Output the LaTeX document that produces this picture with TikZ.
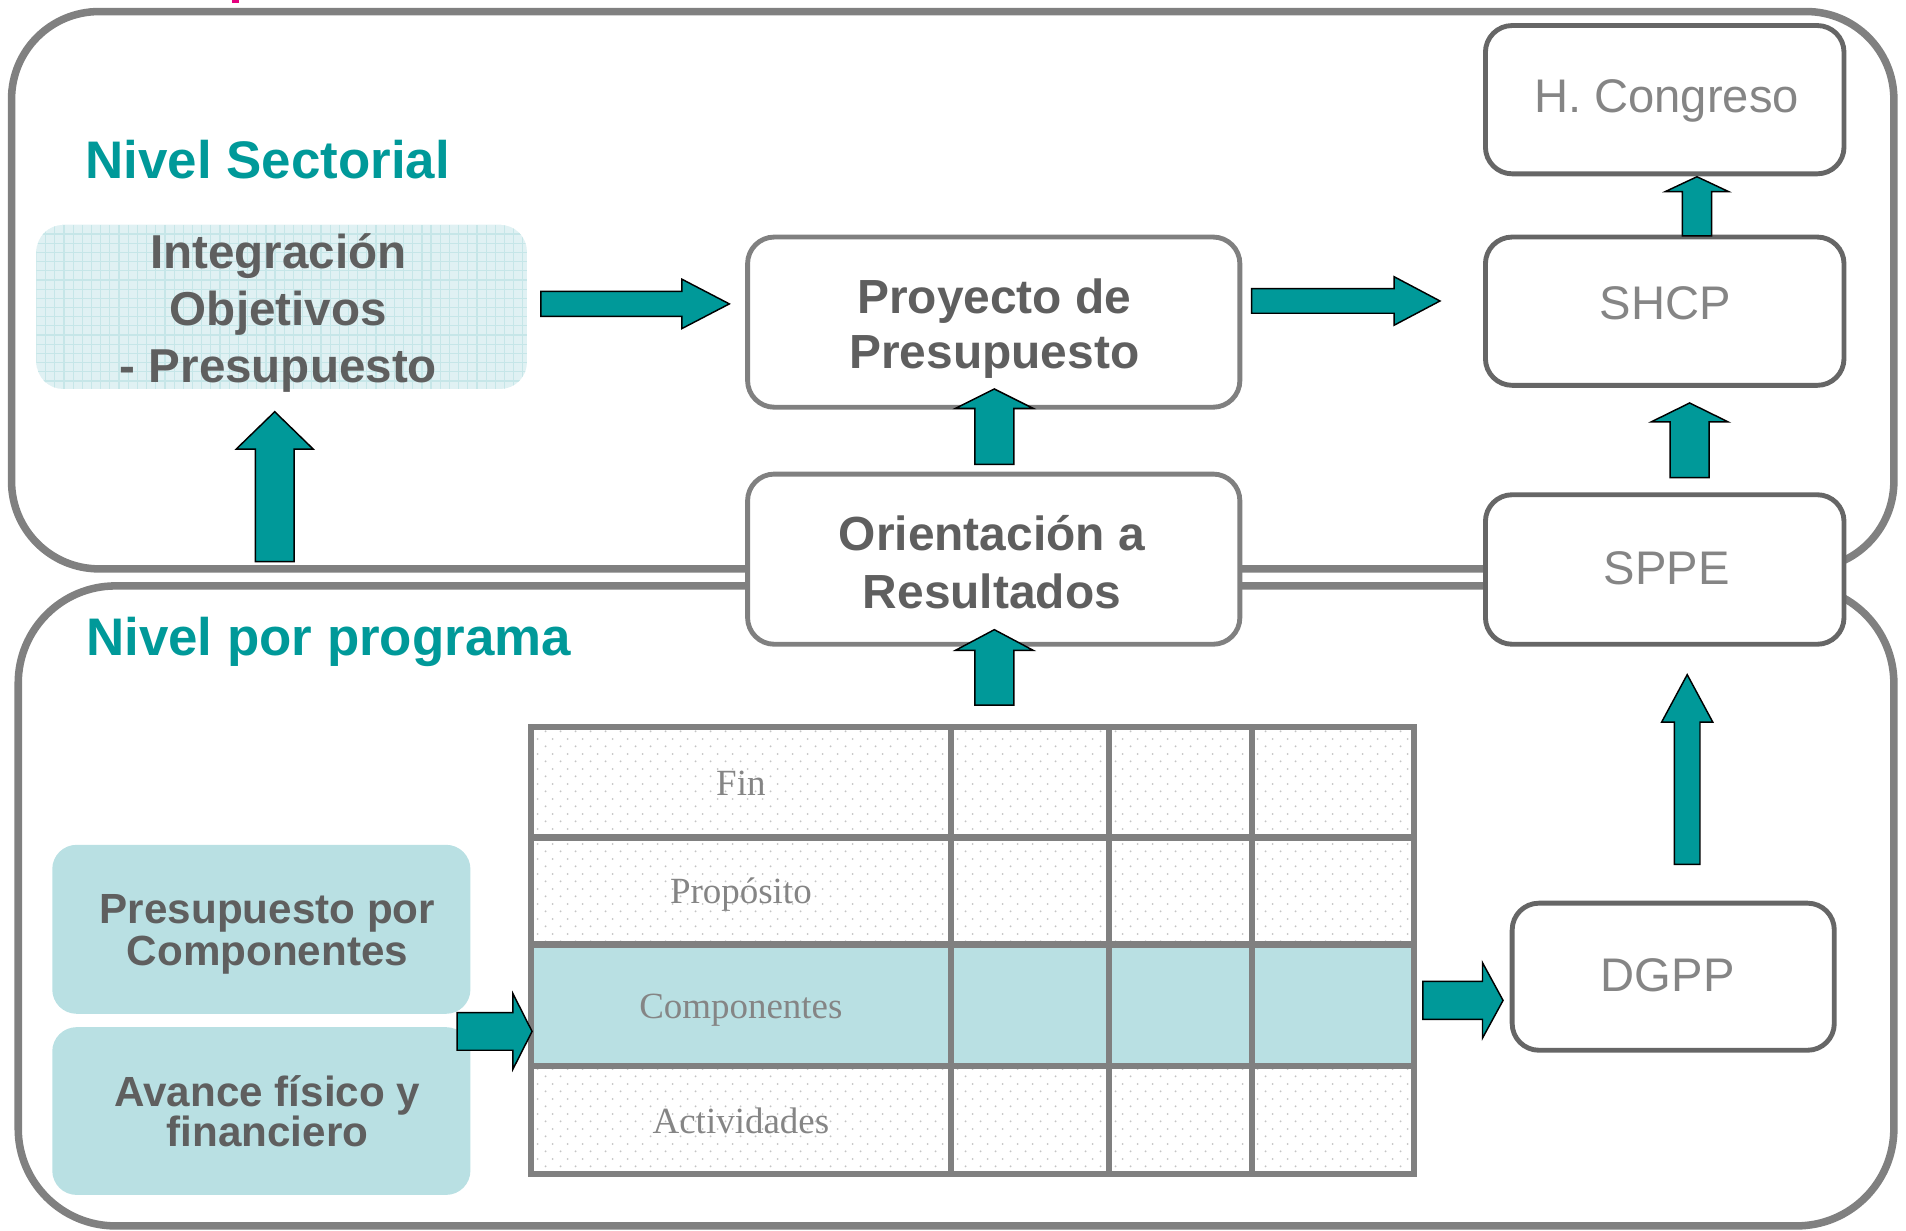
\documentclass[tikz,border=0pt]{standalone}
\usepackage{fontspec}
\setmainfont{Liberation Sans}
\newfontfamily\tabfont{Liberation Serif}
\usetikzlibrary{patterns.meta}
\definecolor{teal1}{HTML}{009999}
\definecolor{ltteal}{HTML}{B9E0E3}
\definecolor{gridbg}{HTML}{E0F1F3}
\definecolor{gridln}{HTML}{C6E6E8}
\definecolor{dktext}{HTML}{5F5F5F}
\definecolor{gytext}{HTML}{858585}
\definecolor{outline}{HTML}{808080}
\definecolor{boxdark}{HTML}{666666}
\definecolor{magenta1}{HTML}{E5007E}
\definecolor{dotgray}{HTML}{C4C4C4}
\tikzdeclarepattern{
  name=stagdots,
  type=uncolored,
  bottom left={(0pt,0pt)},
  top right={(6.2pt,6.3pt)},
  tile size={(6.2pt,6.3pt)},
  code={
    \fill (1.55pt,1.575pt) circle (0.45pt);
    \fill (4.65pt,4.725pt) circle (0.45pt);
  }
}
\tikzset{
 outerbox/.style={draw=outline, line width=3.1pt},
 whitebox/.style={draw=outline, fill=white, line width=2pt, rounded corners=11pt},
 darkbox/.style={draw=boxdark, fill=white, line width=2pt, rounded corners=11pt},
 tealbox/.style={fill=ltteal, rounded corners=10pt},
 gridbox/.style={fill=gridbg, rounded corners=11pt,
   path picture={
     \foreach \i in {0,...,55} \draw[gridln, line width=0.5pt]
       ([xshift=\i*3.775pt]path picture bounding box.north west) -- ([xshift=\i*3.775pt]path picture bounding box.south west);
     \foreach \j in {0,...,20} \draw[gridln, line width=0.5pt]
       ([yshift=-\j*3.775pt]path picture bounding box.north west) -- ([yshift=-\j*3.775pt]path picture bounding box.north east);
   }},
 blockarrow/.style={fill=teal1, draw=black, line width=0.6pt, line join=miter},
 heading/.style={text=teal1, font=\fontsize{21.75}{26}\selectfont\bfseries, inner sep=0pt, anchor=base west},
 boldtxt/.style={text=dktext, inner sep=0pt, anchor=base},
 regtxt/.style={text=gytext, font=\fontsize{19.4}{23}\selectfont, inner sep=0pt, anchor=base},
 tabtxt/.style={text=gytext, font=\fontsize{15.2}{18}\selectfont\tabfont, inner sep=0pt, anchor=base},
 tabline/.style={draw=outline, line width=2.5pt},
}
\newcommand\vblk[6]{% x, bottom, tip, headbase, shafthalf, headhalf
 \draw[blockarrow] ({#1-#5},#2) -- ({#1-#5},#4) -- ({#1-#6},#4) -- (#1,#3) -- ({#1+#6},#4) -- ({#1+#5},#4) -- ({#1+#5},#2) -- cycle;}
\newcommand\hblk[6]{% y, start, tip, headbase, shafthalf, headhalf
 \draw[blockarrow] (#2,{#1-#5}) -- (#4,{#1-#5}) -- (#4,{#1-#6}) -- (#3,#1) -- (#4,{#1+#6}) -- (#4,{#1+#5}) -- (#2,{#1+#5}) -- cycle;}
\begin{document}
\begin{tikzpicture}[x=0.5pt,y=-0.5pt]
\useasboundingbox (0,0) rectangle (1568,1012);
% magenta fragment at top edge
\fill[magenta1] (191,0) rectangle (197,2.6);
% outer level frames
\draw[outerbox, rounded corners=36pt] (9.5,9.5) rectangle (1558,468);
\draw[outerbox, rounded corners=40pt] (15,482) rectangle (1558,1008.5);
% headings
\node[heading] (hsect) at (70,146.6) {Nivel Sectorial};
\node[heading] (hprog) at (70.5,539) {Nivel por programa};
% boxes
\node[gridbox, minimum width=201.75pt, minimum height=67.5pt] (integ) at (231.75,252.5) {};
\node[whitebox, minimum width=202.5pt, minimum height=70pt] (proy) at (817.5,265) {};
\node[whitebox, minimum width=202.5pt, minimum height=70pt] (orient) at (817.5,460) {};
\node[darkbox, minimum width=147.5pt, minimum height=61pt] (cong) at (1369.5,82) {};
\node[darkbox, minimum width=147.5pt, minimum height=61pt] (shcp) at (1369.5,256) {};
\node[darkbox, minimum width=147.5pt, minimum height=61.5pt] (sppe) at (1369.5,468.5) {};
\node[darkbox, minimum width=132.5pt, minimum height=60.5pt] (dgpp) at (1376.5,803.5) {};
\node[tealbox, minimum width=172pt, minimum height=69.5pt] (presc) at (215,764.5) {};
\node[tealbox, minimum width=172pt, minimum height=69pt] (avance) at (215,914) {};
% box texts
\node[boldtxt, font=\fontsize{19.57}{23.6}\selectfont\bfseries] (tinteg) at (229,220.5)
  {\parbox[t]{8cm}{\centering Integración\\Objetivos\\- Presupuesto}};
\node[boldtxt, font=\fontsize{19.7}{22.75}\selectfont\bfseries] (tproy) at (818,257.5)
  {\parbox[t]{8cm}{\centering Proyecto de\\Presupuesto}};
\node[boldtxt, font=\fontsize{19.7}{24}\selectfont\bfseries] (torient) at (816,452.5)
  {\parbox[t]{8cm}{\centering Orientación a\\Resultados}};
\node[boldtxt, font=\fontsize{17.35}{17}\selectfont\bfseries] (tpresc) at (220,760)
  {\parbox[t]{8cm}{\centering Presupuesto por\\Componentes}};
\node[boldtxt, font=\fontsize{17.35}{16.5}\selectfont\bfseries] (tavance) at (220,910)
  {\parbox[t]{8cm}{\centering Avance físico y\\financiero}};
\node[regtxt] (tcong) at (1371,92.5) {H. Congreso};
\node[regtxt] (tshcp) at (1370,262.5) {SHCP};
\node[regtxt] (tsppe) at (1371,480.5) {SPPE};
\node[regtxt] (tdgpp) at (1372,816) {DGPP};
% table (matriz)
\fill[pattern=stagdots, pattern color=dotgray] (437,598) rectangle (1163,966);
\fill[ltteal] (437,777) rectangle (1163,877);
\draw[tabline] (437,598) rectangle (1163,966);
\foreach \cx in {782,912,1030} \draw[tabline] (\cx,598) -- (\cx,966);
\foreach \ry in {689,777,877} \draw[tabline] (437,\ry) -- (1163,\ry);
\node[tabtxt] (fin) at (609.5,654.5) {Fin};
\node[tabtxt] (prop) at (609.5,743.5) {Propósito};
\node[tabtxt] (comp) at (609.5,838) {Componentes};
\node[tabtxt] (act) at (609.5,932.5) {Actividades};
% block arrows
\hblk{250}{445}{600}{561}{10.3}{20.3}
\hblk{247.6}{1029.6}{1184.6}{1146.8}{10.1}{20}
\vblk{1396}{194}{145.4}{157.6}{12}{26}
\vblk{818}{382}{320}{336}{16}{32}
\vblk{818}{580}{518}{535}{16}{32}
\vblk{226}{462}{338.7}{369.5}{16}{31.7}
\vblk{1390}{393}{331.5}{347}{16}{31.5}
\vblk{1388}{711}{555}{594}{10.5}{21}
\hblk{848.5}{376}{437.7}{422}{15.5}{31}
\hblk{823}{1170.5}{1236.5}{1219.6}{15.6}{31}
\end{tikzpicture}
\end{document}
